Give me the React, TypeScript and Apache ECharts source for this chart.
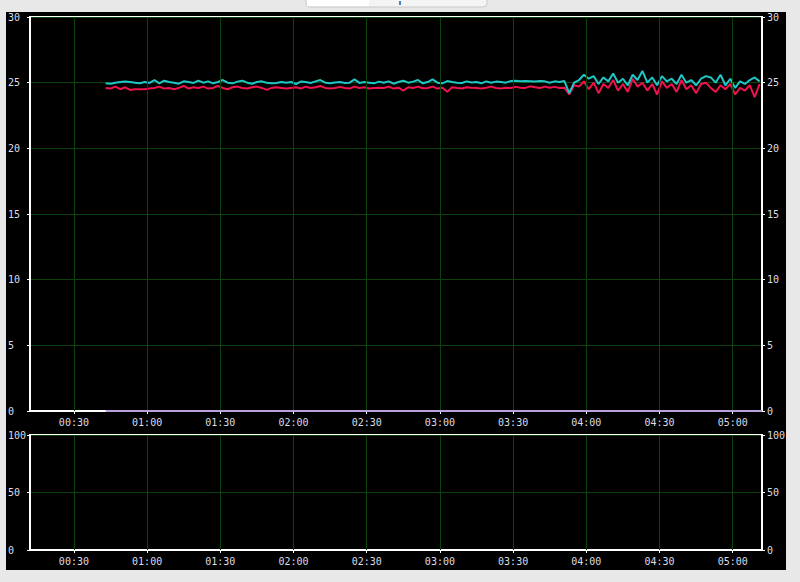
import React, { useEffect, useRef } from "react";
import * as echarts from "echarts";

// Sampling: first sample at 00:43, one sample every 2 minutes, until 05:11
const startMinute = 43;
const stepMinutes = 2;

const cyanValues = [
  24.95, 24.92, 25.0, 25.05, 25.08, 25.05, 25.0, 24.95, 25.05, 24.98, 25.2, 24.95, 25.15, 25.05, 25.0, 24.92, 25.1, 25.05, 24.98,
  25.15, 25.0, 25.1, 24.95, 25.05, 25.2, 25.0, 24.95, 25.08, 25.15, 25.0, 24.92, 25.05, 25.1, 25.0, 24.95, 24.98, 25.05, 25.0,
  25.05, 24.9, 25.08, 25.05, 24.98, 25.1, 25.2, 25.0, 24.95, 25.02, 25.05, 24.98, 25.0, 25.25, 24.98, 25.05, 25.0, 24.95, 25.08,
  25.0, 25.1, 24.92, 25.05, 25.15, 25.0, 25.08, 25.2, 24.95, 25.05, 25.25, 25.0, 24.95, 25.12, 25.05, 25.0, 24.98, 25.1, 25.02,
  25.05, 24.95, 25.1, 25.0, 25.08, 25.05, 25.0, 25.12, 25.15, 25.1, 25.12, 25.1, 25.08, 25.12, 25.1, 25.0, 25.1, 25.05, 25.12,
  24.2, 25.0, 25.2, 25.6, 25.3, 25.5, 24.9, 25.4, 25.1, 25.7, 25.0, 25.3, 24.8, 25.6, 25.2, 25.9, 25.0, 25.4, 24.8, 25.5,
  25.1, 25.3, 24.9, 25.6, 25.0, 25.2, 24.8, 25.3, 25.5, 25.4, 25.0, 25.6, 24.8, 25.3, 24.6, 25.1, 24.9, 25.2, 25.4, 25.1,
];

const redValues = [
  24.6, 24.55, 24.7, 24.5, 24.65, 24.45, 24.5, 24.5, 24.5, 24.55, 24.6, 24.7, 24.55, 24.6, 24.5, 24.6, 24.75, 24.55, 24.65,
  24.6, 24.7, 24.55, 24.6, 24.75, 24.6, 24.5, 24.65, 24.7, 24.6, 24.55, 24.65, 24.7, 24.6, 24.45, 24.6, 24.65, 24.6, 24.55,
  24.6, 24.65, 24.55, 24.7, 24.6, 24.65, 24.75, 24.6, 24.55, 24.6, 24.68, 24.6, 24.55, 24.7, 24.6, 24.65, 24.55, 24.6, 24.62,
  24.6, 24.7, 24.55, 24.62, 24.4, 24.65, 24.6, 24.7, 24.58, 24.6, 24.7, 24.55, 24.62, 24.3, 24.65, 24.6, 24.55, 24.65, 24.62,
  24.6, 24.55, 24.62, 24.7, 24.6, 24.55, 24.62, 24.6, 24.68, 24.62, 24.6, 24.72, 24.65, 24.6, 24.7, 24.62, 24.68, 24.6, 24.62,
  24.1, 24.8, 24.7, 25.1, 24.5, 25.0, 24.2, 24.9, 24.6, 25.2, 24.4, 24.9, 24.3, 25.3, 24.7, 25.0, 24.4, 24.9, 24.1, 25.1,
  24.6, 24.9, 24.3, 25.2, 24.5, 24.8, 24.2, 24.9, 25.0, 24.6, 24.3, 24.8, 24.5, 24.9, 24.1, 24.6, 24.4, 24.8, 23.9, 24.9,
];

// Baseline (zero) series: start and end times (minutes after midnight) and values
const baseMinutes = [43, 312];
const baseValues = [0, 0];

// Time axis range and tick positions (minutes after midnight)
const axisMinMinutes = 12;
const axisMaxMinutes = 312;
const timeTickMinutes = [30, 60, 90, 120, 150, 180, 210, 240, 270, 300];

const topTicks = { min: 0, max: 30, interval: 5 };
const bottomTicks = { min: 0, max: 100, interval: 50 };

const pad = (n: number) => (n < 10 ? "0" + n : "" + n);
const fmtMinutes = (m: number) => pad(Math.floor(m / 60)) + ":" + pad(Math.round(m % 60));

export default function App() {
  const ref = useRef<HTMLDivElement>(null);

  useEffect(() => {
    if (!ref.current) return;
    const chart = echarts.init(ref.current, undefined, { renderer: "svg" });

    const cyanData = cyanValues.map((v, i) => [startMinute + i * stepMinutes, v]);
    const redData = redValues.map((v, i) => [startMinute + i * stepMinutes, v]);
    const baseData = baseValues.map((v, i) => [baseMinutes[i], v]);

    const labelColor = "#dcdce6";
    const font = "DejaVu Sans Mono";
    const gridColor = "#0d420d";

    const xAxisCommon = (gridIndex: number) => ({
      type: "value" as const,
      gridIndex,
      min: axisMinMinutes,
      max: axisMaxMinutes,
      axisLine: { show: true, lineStyle: { color: "#ffffff", width: 2 } },
      axisTick: {
        show: true,
        length: 3,
        customValues: timeTickMinutes,
        lineStyle: { color: "#ffffff", width: 1 },
      },
      axisLabel: {
        formatter: (v: number) => fmtMinutes(v),
        customValues: timeTickMinutes,
        color: labelColor,
        fontFamily: font,
        fontSize: 10,
        margin: 6,
      },
      splitLine: { show: false },
    });

    const yAxisCommon = (gridIndex: number, pos: "left" | "right", ticks: any) => ({
      type: "value" as const,
      gridIndex,
      position: pos,
      min: ticks.min,
      max: ticks.max,
      interval: ticks.interval,
      axisLine: { show: true, lineStyle: { color: "#ffffff", width: 2 } },
      axisTick: { show: true, length: 3, lineStyle: { color: "#ffffff", width: 1 } },
      axisLabel: {
        color: labelColor,
        fontFamily: font,
        fontSize: 10,
        align: "left",
        margin: pos === "left" ? 22 : 5,
      },
      splitLine: { show: pos === "left", lineStyle: { color: gridColor, width: 1 } },
    });

    // vertical grid lines at the time ticks, drawn through the axis scale via markLine
    const vLines = (xi: number, yi: number) => ({
      type: "line",
      xAxisIndex: xi,
      yAxisIndex: yi,
      data: [],
      silent: true,
      z: 1,
      markLine: {
        silent: true,
        symbol: "none",
        label: { show: false },
        lineStyle: { color: gridColor, width: 1, type: "solid" },
        data: timeTickMinutes.map((m) => ({ xAxis: m })),
      },
    });

    chart.setOption({
      animation: false,
      backgroundColor: "#e8e8e8",
      graphic: [
        { type: "rect", shape: { x: 6, y: 12, width: 780, height: 558 }, style: { fill: "#000000" }, z: -10 },
        { type: "rect", shape: { x: 306, y: -6, width: 181, height: 13, r: 4 }, style: { fill: "#f4f4f4", stroke: "#c8c8c8", lineWidth: 1 }, z: -10 },
        { type: "rect", shape: { x: 307, y: -6, width: 62, height: 12 }, style: { fill: "#ffffff" }, z: -9 },
        { type: "rect", shape: { x: 399, y: 1, width: 2, height: 4 }, style: { fill: "#4a7fd0" }, z: -9 },
      ],
      grid: [
        { left: 30, right: 38, top: 17, height: 394, show: true, borderColor: "#ffffff", borderWidth: 2, backgroundColor: "transparent" },
        { left: 30, right: 38, top: 435, height: 115, show: true, borderColor: "#ffffff", borderWidth: 2, backgroundColor: "transparent" },
      ],
      xAxis: [xAxisCommon(0), xAxisCommon(1)],
      yAxis: [
        yAxisCommon(0, "left", topTicks),
        yAxisCommon(0, "right", topTicks),
        yAxisCommon(1, "left", bottomTicks),
        yAxisCommon(1, "right", bottomTicks),
      ],
      series: [
        vLines(0, 0),
        vLines(1, 2),
        {
          type: "line",
          xAxisIndex: 0,
          yAxisIndex: 0,
          data: baseData,
          showSymbol: false,
          clip: false,
          lineStyle: { color: "#b9a2dc", width: 2 },
          z: 20,
        },
        {
          type: "line",
          xAxisIndex: 0,
          yAxisIndex: 0,
          data: redData,
          showSymbol: false,
          lineStyle: { color: "#f0124e", width: 2 },
          z: 3,
        },
        {
          type: "line",
          xAxisIndex: 0,
          yAxisIndex: 0,
          data: cyanData,
          showSymbol: false,
          lineStyle: { color: "#1fc6c6", width: 2 },
          z: 4,
        },
      ],
    });

    return () => chart.dispose();
  }, []);

  return (
    <div
      ref={ref}
      style={{ position: "fixed", left: 0, top: 0, width: 800, height: 582 }}
    />
  );
}
